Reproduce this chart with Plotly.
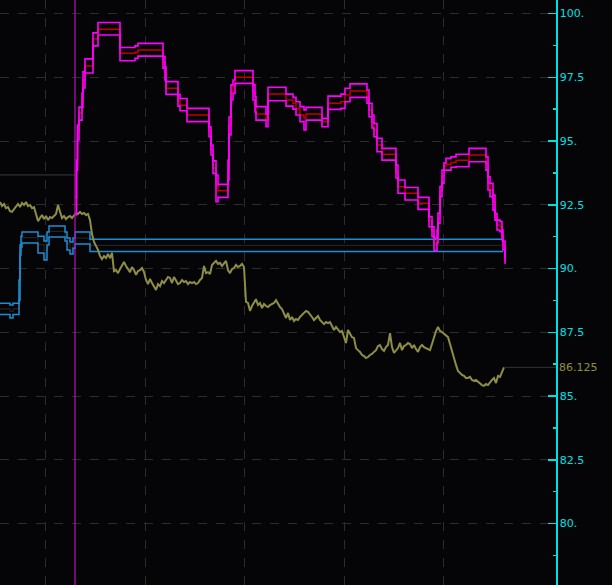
import plotly.graph_objects as go

# ---------------- data ----------------
price = [
    92.61, 92.45, 92.53, 92.37, 92.41, 92.25, 92.22, 92.33, 92.45, 92.53,
    92.41, 92.57, 92.49, 92.61, 92.45, 92.49, 92.37, 92.41, 92.14, 91.86,
    91.98, 92.10, 91.94, 92.06, 91.90, 92.02, 91.98, 92.06, 92.14, 92.49,
    92.22, 91.98, 92.06, 91.94, 92.02, 92.06, 91.98, 92.10, 92.18, 92.14,
    92.22, 92.14, 92.18, 92.10, 92.14, 91.90, 91.35, 91.04, 90.88, 90.73,
    90.49, 90.37, 90.49, 90.41, 90.57, 90.41, 90.61, 89.90, 89.94, 89.82,
    89.98, 90.10, 90.26, 90.10, 89.98, 89.86, 90.06, 89.94, 89.75, 89.90,
    89.94, 90.02, 89.86, 89.55, 89.39, 89.59, 89.43, 89.28, 89.16, 89.39,
    89.31, 89.51, 89.43, 89.55, 89.67, 89.63, 89.43, 89.67, 89.51, 89.39,
    89.43, 89.55, 89.47, 89.51, 89.39, 89.47, 89.43, 89.47, 89.39, 89.43,
    89.55, 89.63, 90.10, 89.82, 89.86, 89.78, 90.14, 90.22, 90.30, 90.18,
    90.22, 90.10, 90.18, 90.30, 89.94, 89.82, 89.98, 90.02, 90.14, 90.06,
    90.10, 90.18, 90.06, 88.69, 88.65, 88.34, 88.53, 88.69, 88.80, 88.57,
    88.65, 88.45, 88.61, 88.53, 88.49, 88.57, 88.61, 88.65, 88.76, 88.61,
    88.49, 88.41, 88.22, 88.06, 88.26, 87.98, 88.10, 87.94, 88.02, 87.98,
    88.10, 88.18, 88.26, 88.34, 88.30, 88.22, 88.10, 87.98, 88.06, 88.14,
    87.98, 87.90, 87.82, 87.90, 87.86, 87.90, 87.71, 87.59, 87.71, 87.63,
    87.51, 87.55, 87.28, 87.08, 87.59, 87.43, 87.31, 87.28, 86.88, 86.80,
    86.73, 86.61, 86.57, 86.49, 86.53, 86.61, 86.65, 86.73, 86.80, 86.96,
    87.00, 86.84, 86.77, 86.92, 87.00, 87.47, 86.92, 86.69, 86.77, 86.88,
    87.08, 86.80, 86.96, 87.00, 87.08, 87.04, 86.88, 87.00, 86.84, 86.73,
    86.92, 87.00, 86.92, 86.88, 86.84, 86.80, 87.04, 87.35, 87.55, 87.71,
    87.55, 87.51, 87.43, 87.35, 87.31, 87.04, 86.77, 86.41, 86.22, 85.98,
    85.90, 85.83, 85.79, 85.71, 85.71, 85.75, 85.63, 85.59, 85.63, 85.55,
    85.47, 85.43, 85.40, 85.47, 85.43, 85.55, 85.63, 85.71, 85.51, 85.79,
    85.75, 85.94, 86.125,
]
price_t = [2 * i for i in range(len(price))]
last_price = 86.125
last_label = "86.125"

# blue band (before the event line, then frozen)
blue_t = [0, 10, 13, 19, 20, 21, 22, 38, 44, 47, 49, 65, 67, 70, 73, 75, 90, 503]
blue_upper = [88.64, 88.57, 88.64, 89.55, 90.92, 91.27, 91.43, 91.27, 91.08, 91.43,
              91.67, 91.43, 91.20, 91.04, 91.20, 91.43, 91.15, 91.15]
blue_lower = [88.20, 88.06, 88.20, 88.76, 90.53, 90.84, 91.00, 90.61, 90.33, 90.92,
              91.24, 91.08, 90.73, 90.57, 90.80, 90.96, 90.67, 90.67]
blue_mid = [(u + l) / 2 for u, l in zip(blue_upper, blue_lower)]

# magenta band (after the event line)
band_t = [75, 76.5, 77.5, 79, 82, 83, 85, 93, 98, 120,
          135, 138, 163, 165, 166, 178, 180, 187, 209, 211,
          213, 216, 218, 228, 229, 231, 233, 235, 253, 255,
          256, 266, 268, 286, 293, 296, 300, 304, 306, 322,
          328, 341, 345, 350, 367, 369, 372, 374, 377, 382,
          396, 398, 405, 418, 429, 432, 434, 437, 438, 440,
          442, 444, 446, 451, 456, 469, 486, 488, 490, 493,
          495, 497, 500, 502, 503, 505, 506]
band_upper = [92.80, 94.25, 95.63, 96.33, 96.88, 97.71, 98.22, 99.24, 99.65, 98.67,
              98.73, 98.83, 98.31, 97.91, 97.33, 96.83, 96.67, 96.28, 95.56, 94.84,
              94.22, 93.67, 93.30, 94.25, 95.94, 97.20, 97.39, 97.76, 97.20, 96.74,
              96.35, 96.06, 97.11, 96.84, 96.71, 96.54, 96.35, 96.22, 96.32, 95.89,
              96.76, 96.84, 97.07, 97.24, 97.00, 96.48, 96.02, 95.69, 95.11, 94.71,
              94.06, 93.47, 93.18, 92.79, 92.03, 91.64, 91.20, 91.51, 92.18, 93.21,
              93.86, 94.14, 94.32, 94.38, 94.48, 94.71, 94.38, 93.60, 93.34, 92.88,
              92.16, 91.90, 91.84, 91.51, 91.08, 90.45, 90.45]
band_mid = [92.49, 94.06, 95.35, 96.10, 96.61, 97.39, 97.94, 99.00, 99.38, 98.44,
            98.48, 98.57, 98.10, 97.67, 97.07, 96.61, 96.40, 96.02, 95.39, 94.65,
            93.94, 93.27, 93.05, 93.86, 95.63, 96.92, 97.16, 97.50, 96.92, 96.41,
            96.06, 95.82, 96.84, 96.61, 96.48, 96.28, 96.02, 95.90, 96.06, 95.76,
            96.48, 96.54, 96.80, 96.96, 96.73, 96.22, 95.75, 95.43, 94.84, 94.48,
            93.78, 93.21, 92.95, 92.56, 91.86, 91.47, 90.96, 91.27, 91.98, 93.04,
            93.63, 94.02, 94.09, 94.16, 94.25, 94.45, 94.13, 93.34, 93.08, 92.61,
            92.02, 91.71, 91.64, 91.31, 90.92, 90.33, 90.33]
band_lower = [92.10, 93.86, 95.04, 95.82, 96.33, 97.08, 97.67, 98.73, 99.16, 98.15,
              98.24, 98.33, 97.86, 97.39, 96.83, 96.37, 96.19, 95.76, 95.17, 94.45,
              93.73, 92.62, 92.79, 93.47, 95.24, 96.61, 96.87, 97.26, 96.61, 96.14,
              95.82, 95.56, 96.58, 96.37, 96.25, 96.02, 95.76, 95.43, 95.82, 95.56,
              96.24, 96.28, 96.54, 96.71, 96.48, 95.95, 95.51, 95.17, 94.58, 94.25,
              93.55, 92.95, 92.69, 92.32, 91.64, 91.25, 90.71, 91.00, 91.78, 92.82,
              93.35, 93.86, 93.86, 93.97, 93.99, 94.19, 93.86, 93.08, 92.82, 92.29,
              91.90, 91.51, 91.44, 91.12, 90.73, 90.22, 90.22]

event_t = 75
prior_level = 93.67

y_ticks = [80, 82.5, 85, 87.5, 90, 92.5, 95, 97.5, 100]
y_tick_text = ["80.", "82.5", "85.", "87.5", "90.", "92.5", "95.", "97.5", "100."]
y_minor = [78.75, 81.25, 83.75, 86.25, 88.75, 91.25, 93.75, 96.25, 98.75]
x_grid = [45, 145, 244, 344, 443]

# ---------------- styles ----------------
BG = "#050508"
CYAN = "#00e0e0"
OLIVE = "#8e8e48"
BLUE = "#1c8ed4"
MAG = "#ff00ff"
DARKRED = "#c00000"
GRID = "#2c2c2c"

fig = go.Figure()

# blue band
fig.add_trace(go.Scatter(x=blue_t, y=blue_mid, mode="lines", line=dict(color="#222222", width=1.2, shape="hv"), hoverinfo="skip"))
fig.add_trace(go.Scatter(x=blue_t, y=blue_upper, mode="lines", line=dict(color=BLUE, width=1.5, shape="hv"), hoverinfo="skip"))
fig.add_trace(go.Scatter(x=blue_t, y=blue_lower, mode="lines", line=dict(color=BLUE, width=1.5, shape="hv"), hoverinfo="skip"))

# price
fig.add_trace(go.Scatter(x=price_t, y=price, mode="lines", line=dict(color=OLIVE, width=2), hoverinfo="skip"))

# magenta band
fig.add_trace(go.Scatter(x=band_t, y=band_mid, mode="lines", line=dict(color=DARKRED, width=1.5, shape="hv"), hoverinfo="skip"))
fig.add_trace(go.Scatter(x=band_t, y=band_upper, mode="lines", line=dict(color=MAG, width=1.6, shape="hv"), hoverinfo="skip"))
fig.add_trace(go.Scatter(x=band_t, y=band_lower, mode="lines", line=dict(color=MAG, width=1.6, shape="hv"), hoverinfo="skip"))

# event vertical line
fig.add_shape(type="line", xref="x", yref="paper", x0=event_t, x1=event_t, y0=0, y1=1,
              line=dict(color="#b010b0", width=1.3))
# prior level line
fig.add_shape(type="line", xref="x", yref="y", x0=0, x1=event_t, y0=prior_level, y1=prior_level,
              line=dict(color="#3a3a3a", width=1), layer="below")
# last price line
fig.add_shape(type="line", xref="x", yref="y", x0=price_t[-1], x1=556, y0=last_price, y1=last_price,
              line=dict(color="#333333", width=1))

fig.add_annotation(xref="paper", yref="y", x=1, y=last_price, text=last_label, showarrow=False,
                   xanchor="left", yanchor="middle", xshift=1,
                   font=dict(family="DejaVu Sans", size=11, color=OLIVE))

fig.update_layout(
    width=612, height=585,
    margin=dict(l=0, r=56, t=0, b=0),
    paper_bgcolor=BG, plot_bgcolor=BG,
    showlegend=False,
    hovermode=False,
    xaxis=dict(range=[0, 556], tickvals=x_grid, showticklabels=False, ticks="",
               showgrid=True, gridcolor=GRID, griddash="dash", gridwidth=1,
               zeroline=False, showline=False, fixedrange=True),
    yaxis=dict(side="right", range=[77.59, 100.53], tickvals=y_ticks, ticktext=y_tick_text,
               showline=True, linecolor=CYAN, linewidth=1.5, mirror=False,
               ticks="inside", ticklen=8, tickwidth=1.5, tickcolor=CYAN,
               tickfont=dict(family="DejaVu Sans", size=11, color=CYAN),
               ticklabelstandoff=0, fixedrange=True,
               showgrid=True, gridcolor=GRID, griddash="dash", gridwidth=1,
               zeroline=False,
               minor=dict(tickvals=y_minor, ticks="inside", ticklen=3, tickwidth=1.5,
                          tickcolor=CYAN, showgrid=False)),
)

fig.write_html("out.html", config={"displayModeBar": False, "staticPlot": True},
               post_script="document.body.style.margin='0';document.body.style.background='%s';" % BG)
